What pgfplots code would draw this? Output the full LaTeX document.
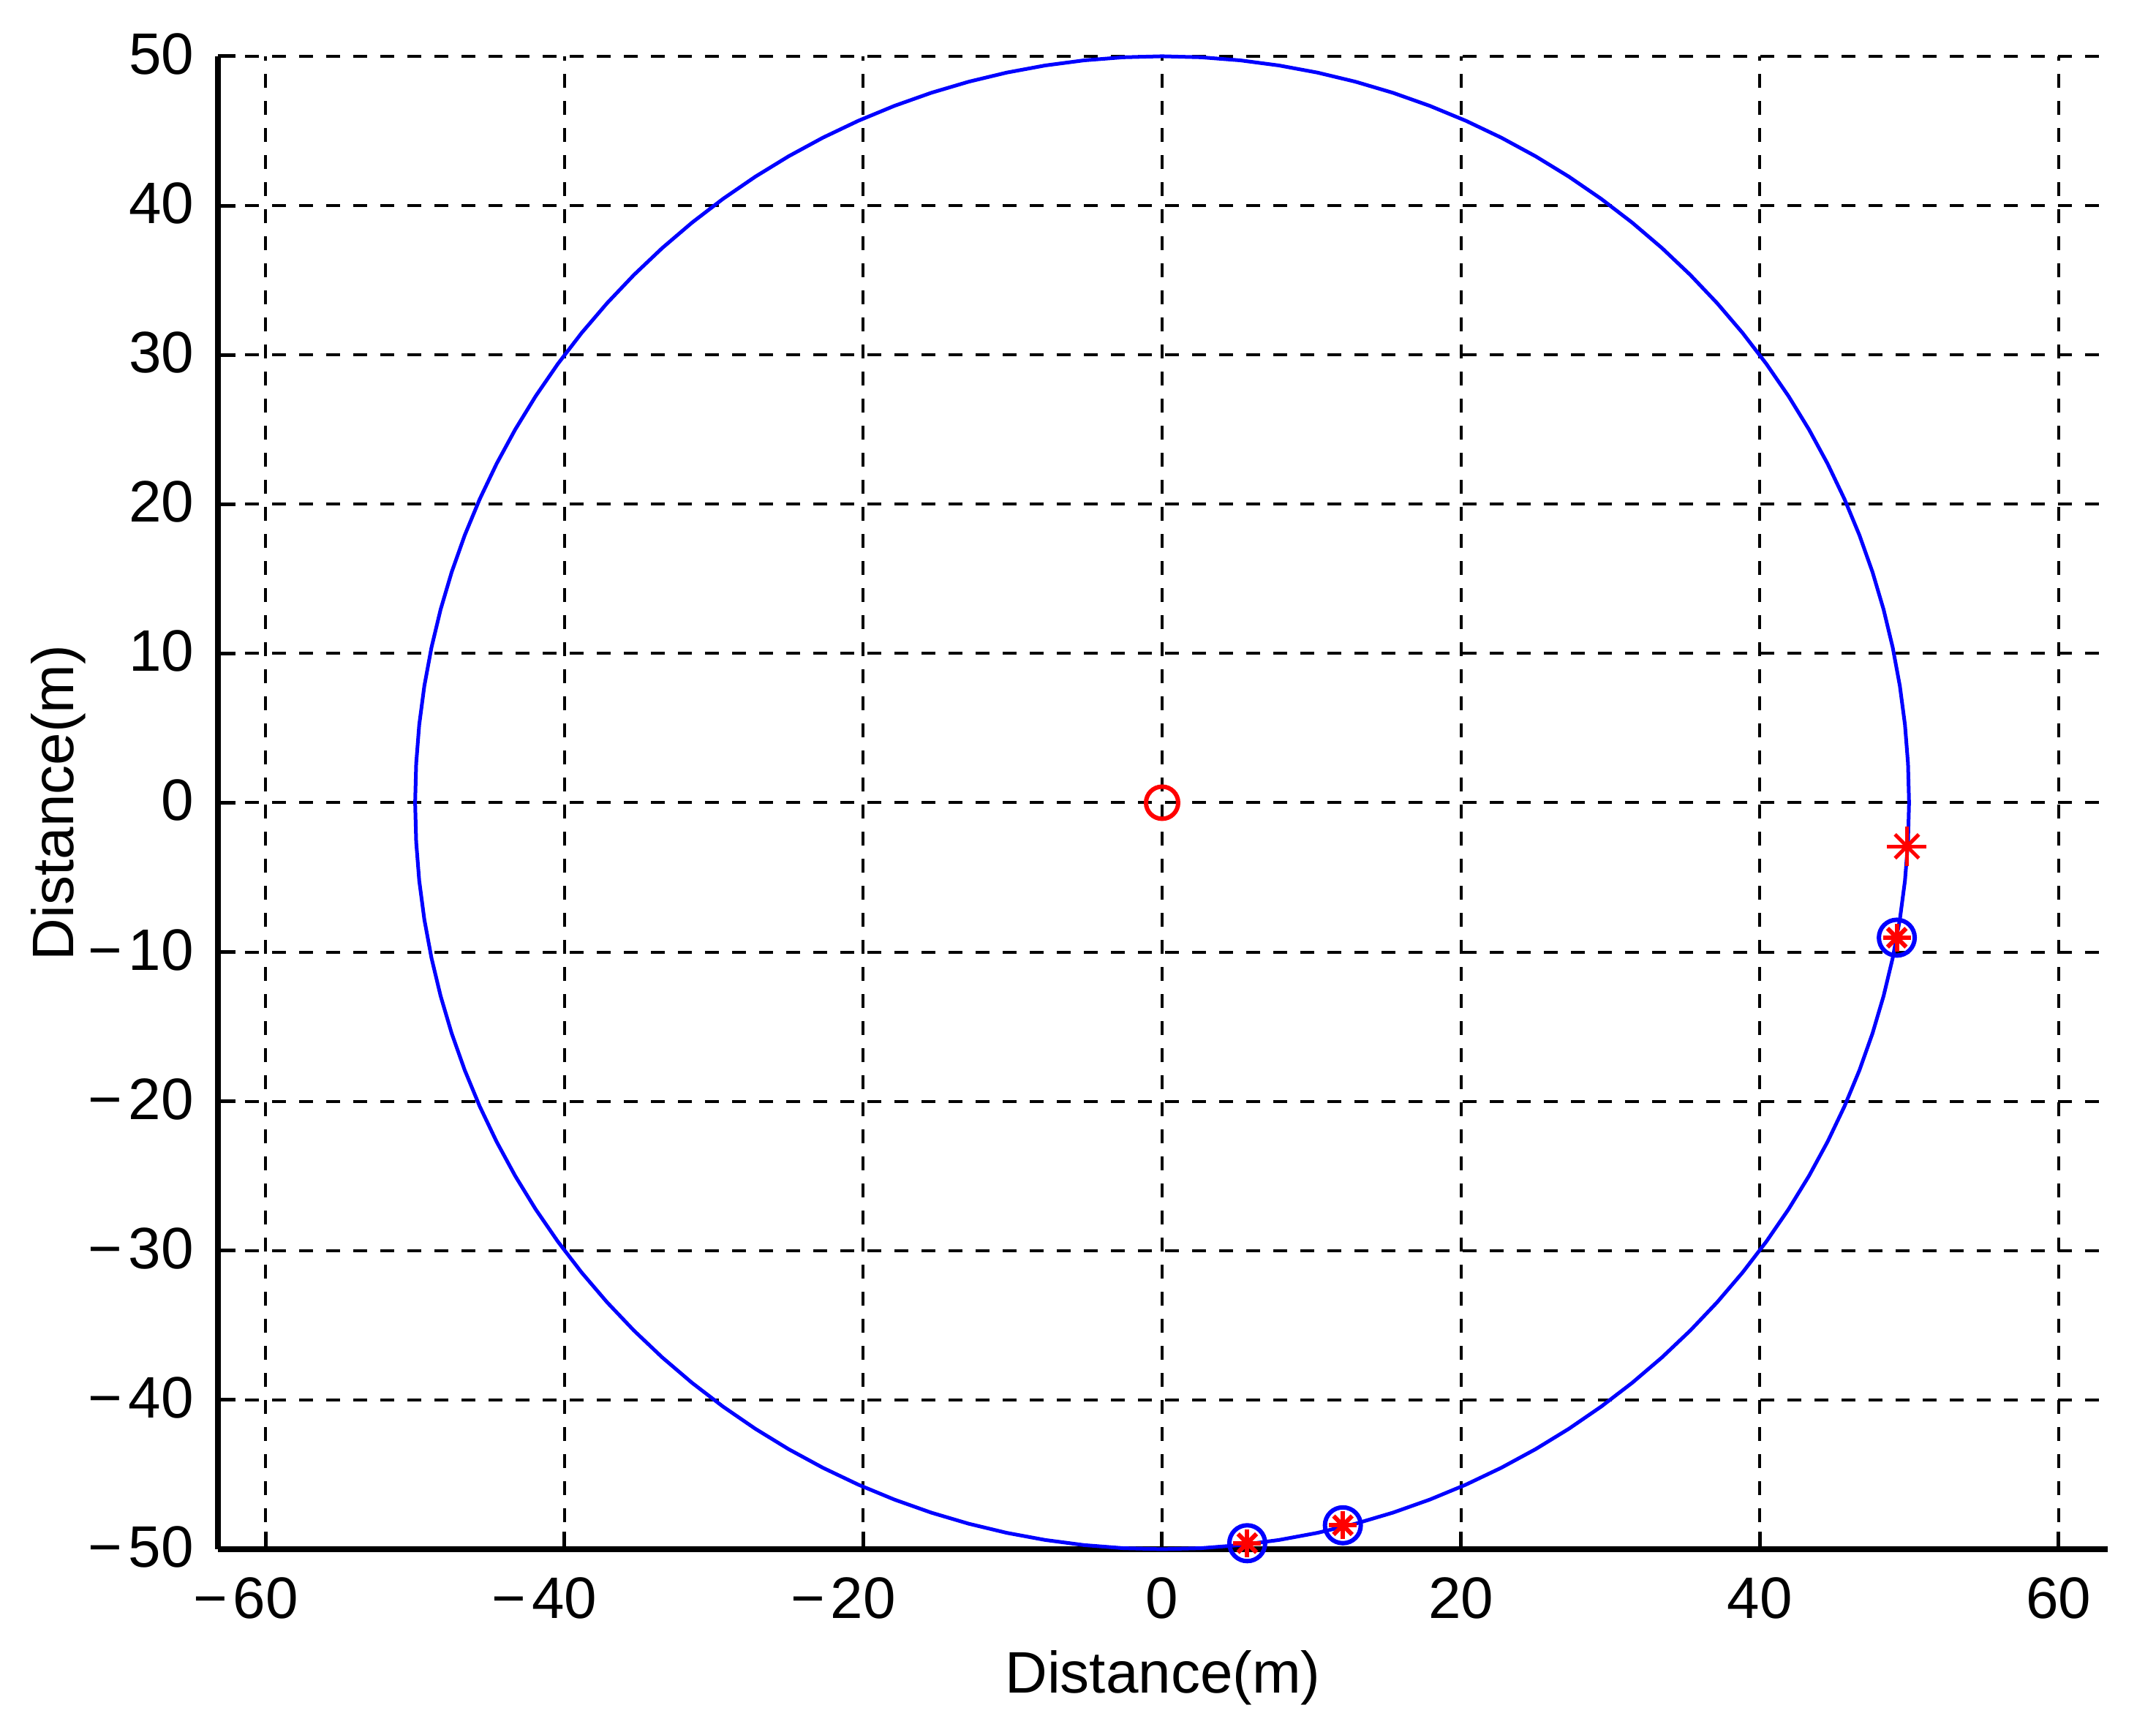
\documentclass[border=0pt]{standalone}
\usepackage{fontspec}
\setmainfont{Liberation Sans}
\usepackage{pgfplots}
\pgfplotsset{compat=1.18}
\begin{document}
\begin{tikzpicture}
\begin{axis}[
  scale only axis,
  width=258.4pt, height=204.1pt,
  xmin=-63.2, xmax=63.3,
  ymin=-50, ymax=50,
  axis x line=bottom, axis y line=left,
  axis line style={-, black, line width=0.75pt},
  clip=false,
  xtick={-60,-40,-20,0,20,40,60},
  xticklabels={{\llap{−\kern0.8pt}60},{\llap{−\kern0.8pt}40},{\llap{−\kern0.8pt}20},0,20,40,60},
  ytick={-50,-40,-30,-20,-10,0,10,20,30,40,50},
  yticklabels={{−\kern0.9pt50},{−\kern0.9pt40},{−\kern0.9pt30},{−\kern0.9pt20},{−\kern0.9pt10},0,10,20,30,40,50},
  tick align=inside,
  major tick length=2.4pt,
  tick style={black, line width=0.5pt},
  grid=major,
  major grid style={black, line width=0.4pt, dash pattern=on 1.9pt off 1.8pt},
  tick label style={font=\fontsize{8}{9.6}\selectfont},
  xticklabel style={anchor=base, inner sep=0pt, yshift=-9.5pt},
  yticklabel style={anchor=east, inner sep=0pt, xshift=-3.1pt, yshift=0.3pt},
  xlabel={Distance(m)},
  ylabel={Distance(m)},
  label style={font=\fontsize{8}{9.6}\selectfont},
  xlabel style={at={(axis description cs:0.5,-0.0965)}, anchor=base},
  ylabel style={at={(axis description cs:-0.0766,0.5)}, anchor=base},
]
% circle of radius 50 around the base station
\addplot[blue, line width=0.5pt, mark=none] coordinates {
(50.000,0.000) (49.931,2.617) (49.726,5.226) (49.384,7.822) (48.907,10.396) (48.296,12.941)
(47.553,15.451) (46.679,17.918) (45.677,20.337) (44.550,22.700) (43.301,25.000) (41.933,27.232)
(40.451,29.389) (38.857,31.466) (37.157,33.457) (35.355,35.355) (33.457,37.157) (31.466,38.857)
(29.389,40.451) (27.232,41.933) (25.000,43.301) (22.700,44.550) (20.337,45.677) (17.918,46.679)
(15.451,47.553) (12.941,48.296) (10.396,48.907) (7.822,49.384) (5.226,49.726) (2.617,49.931)
(0.000,50.000) (-2.617,49.931) (-5.226,49.726) (-7.822,49.384) (-10.396,48.907) (-12.941,48.296)
(-15.451,47.553) (-17.918,46.679) (-20.337,45.677) (-22.700,44.550) (-25.000,43.301) (-27.232,41.933)
(-29.389,40.451) (-31.466,38.857) (-33.457,37.157) (-35.355,35.355) (-37.157,33.457) (-38.857,31.466)
(-40.451,29.389) (-41.933,27.232) (-43.301,25.000) (-44.550,22.700) (-45.677,20.337) (-46.679,17.918)
(-47.553,15.451) (-48.296,12.941) (-48.907,10.396) (-49.384,7.822) (-49.726,5.226) (-49.931,2.617)
(-50.000,0.000) (-49.931,-2.617) (-49.726,-5.226) (-49.384,-7.822) (-48.907,-10.396) (-48.296,-12.941)
(-47.553,-15.451) (-46.679,-17.918) (-45.677,-20.337) (-44.550,-22.700) (-43.301,-25.000) (-41.933,-27.232)
(-40.451,-29.389) (-38.857,-31.466) (-37.157,-33.457) (-35.355,-35.355) (-33.457,-37.157) (-31.466,-38.857)
(-29.389,-40.451) (-27.232,-41.933) (-25.000,-43.301) (-22.700,-44.550) (-20.337,-45.677) (-17.918,-46.679)
(-15.451,-47.553) (-12.941,-48.296) (-10.396,-48.907) (-7.822,-49.384) (-5.226,-49.726) (-2.617,-49.931)
(0.000,-50.000) (2.617,-49.931) (5.226,-49.726) (7.822,-49.384) (10.396,-48.907) (12.941,-48.296)
(15.451,-47.553) (17.918,-46.679) (20.337,-45.677) (22.700,-44.550) (25.000,-43.301) (27.232,-41.933)
(29.389,-40.451) (31.466,-38.857) (33.457,-37.157) (35.355,-35.355) (37.157,-33.457) (38.857,-31.466)
(40.451,-29.389) (41.933,-27.232) (43.301,-25.000) (44.550,-22.700) (45.677,-20.337) (46.679,-17.918)
(47.553,-15.451) (48.296,-12.941) (48.907,-10.396) (49.384,-7.822) (49.726,-5.226) (49.931,-2.617)
(50.000,0.000)};
% centre
\addplot[only marks, red, mark=o, mark size=2.2pt, line width=0.6pt] coordinates {(0,0)};
% detected nodes
\addplot[only marks, blue, mark=o, mark size=2.45pt, line width=0.6pt] coordinates {(49.18,-9.04) (12.1,-48.4) (5.7,-49.6)};
\addplot[only marks, red, mark=+, mark size=1.9pt, line width=0.6pt] coordinates {(49.18,-9.04) (12.1,-48.4) (5.7,-49.6)};
\addplot[only marks, red, mark=x, mark size=1.8pt, line width=0.6pt] coordinates {(49.18,-9.04) (12.1,-48.4) (5.7,-49.6)};
% lone estimate
\addplot[only marks, red, mark=+, mark size=2.7pt, line width=0.5pt] coordinates {(49.86,-2.92)};
\addplot[only marks, red, mark=x, mark size=2.3pt, line width=0.5pt] coordinates {(49.86,-2.92)};
\end{axis}
\path (current axis.south west) +(-29.8pt,-25.4pt) +(265.0pt,211.8pt);
\end{tikzpicture}
\end{document}
